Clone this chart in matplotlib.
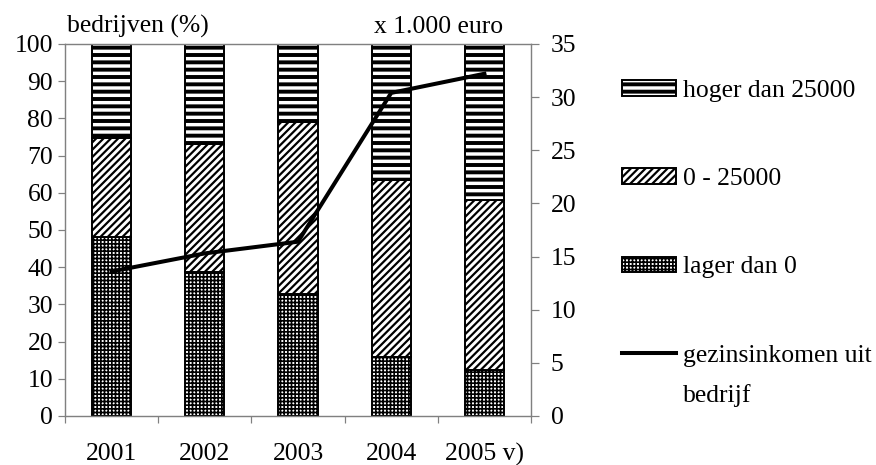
import matplotlib.pyplot as plt
import numpy as np

plt.rcParams['font.family'] = ['Liberation Serif', 'DejaVu Serif']

# data
years = ['2001', '2002', '2003', '2004', '2005 v)']
lager = [48.0, 38.8, 32.8, 15.8, 12.4]          # lager dan 0
midden = [26.6, 34.3, 46.1, 47.6, 45.7]         # 0 - 25000
hoger = [25.4, 26.9, 21.1, 36.6, 41.9]          # hoger dan 25000
inkomen = [13.6, 15.3, 16.4, 30.4, 32.2]        # gezinsinkomen uit bedrijf (x 1.000 euro)

DPI = 88
W, H = 876, 465
fig = plt.figure(figsize=(W / DPI, H / DPI), dpi=DPI)
ax1 = fig.add_axes([65 / W, 1 - 416 / H, (531 - 65) / W, (416 - 44) / H])
ax2 = ax1.twinx()

x = np.arange(len(years))
bw = 0.42
fs = 21
grey = '#808080'

# hatch: patroon en lijndikte per reeks
stijl = {'lager dan 0': ('++++', 1.4),
         '0 - 25000': ('////', 1.8),
         'hoger dan 25000': ('--', 3.2)}


def hatched(patches, hatch, lw):
    for p in patches:
        p.set_hatch(hatch)
        if hasattr(p, 'set_hatch_linewidth'):
            p.set_hatch_linewidth(lw)


plt.rcParams['hatch.linewidth'] = stijl['lager dan 0'][1]
b1 = ax1.bar(x, lager, bw, color='white', edgecolor='black', linewidth=1.6,
             label='lager dan 0')
hatched(b1, *stijl['lager dan 0'])
plt.rcParams['hatch.linewidth'] = stijl['0 - 25000'][1]
b2 = ax1.bar(x, midden, bw, bottom=lager, color='white', edgecolor='black',
             linewidth=1.6, label='0 - 25000')
hatched(b2, *stijl['0 - 25000'])
plt.rcParams['hatch.linewidth'] = stijl['hoger dan 25000'][1]
b3 = ax1.bar(x, hoger, bw, bottom=np.add(lager, midden), color='white',
             edgecolor='black', linewidth=1.6, label='hoger dan 25000')
hatched(b3, *stijl['hoger dan 25000'])

ln = ax2.plot(x, inkomen, color='black', linewidth=3.3, solid_joinstyle='miter',
              label='gezinsinkomen uit')

# assen
ax1.set_xlim(-0.5, 4.5)
ax1.set_ylim(0, 100)
ax2.set_ylim(0, 35)
ax1.set_yticks(np.arange(0, 101, 10))
ax2.set_yticks(np.arange(0, 36, 5))
ax1.set_xticks(x)
ax1.set_xticklabels(years)
ax1.set_xticks(np.arange(-0.5, 5, 1), minor=True)

ax1.tick_params(axis='x', which='major', length=0, pad=22, labelsize=fs)
ax1.tick_params(axis='x', which='minor', length=5.7, width=1, color=grey, direction='out')
ax1.tick_params(axis='y', length=5.7, width=1, color=grey, pad=4, labelsize=fs)
ax2.tick_params(axis='y', length=6.2, width=1, color=grey, pad=10, labelsize=fs)

for a in (ax1, ax2):
    for s in a.spines.values():
        s.set_color(grey)
        s.set_linewidth(1)

fig.text(67 / W, 1 - 33 / H, 'bedrijven (%)', fontsize=fs, ha='left', va='baseline')
fig.text(439 / W, 1 - 33 / H, 'x 1.000 euro', fontsize=fs, ha='center', va='baseline')

# legenda
handles = [b3, b2, b1, ln[0]]
labels = ['hoger dan 25000', '0 - 25000', 'lager dan 0', 'gezinsinkomen uit']
leg = fig.legend(handles, labels, loc='upper left', bbox_to_anchor=(622 / W, 1 - 80 / H),
                 frameon=False, fontsize=fs, handlelength=2.1, handleheight=0.55,
                 handletextpad=0.27, labelspacing=2.58, borderpad=0, borderaxespad=0)
for p, lab in zip(leg.get_patches(), labels[:3]):
    hatched([p], *stijl[lab])
fig.text(683 / W, 1 - 396 / H, 'bedrijf', fontsize=fs, ha='left', va='center')

fig.savefig('out.png', dpi=DPI)
